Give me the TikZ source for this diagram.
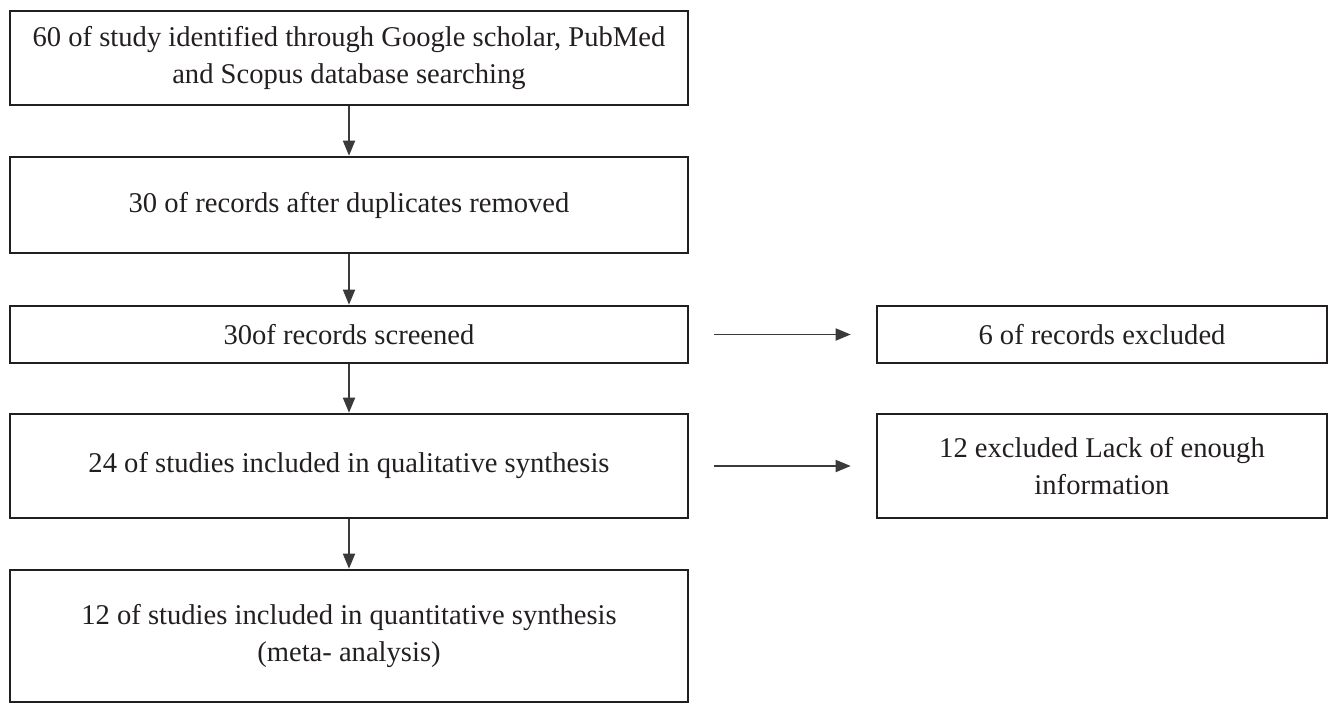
\documentclass[tikz,border=0pt]{standalone}
\usepackage{fontspec}
\setmainfont{Liberation Serif}
\usetikzlibrary{arrows.meta}
\definecolor{ink}{HTML}{231F20}
\definecolor{arrowgray}{HTML}{3A3A3A}
\tikzset{
  box/.style={draw=ink, line width=2.6pt, text=ink, align=center, inner sep=0pt,
    font=\fontsize{28.6}{37}\selectfont},
  flow/.style={draw=arrowgray, line width=1.8pt,
    -{Triangle[length=15pt,width=12pt]}},
}
\begin{document}
\begin{tikzpicture}[x=1pt,y=-1pt]
\useasboundingbox (0,0) rectangle (1328,704);
\node[box, minimum width=678pt, minimum height=94pt] (b1) at (349,58)
  {60 of study identified through Google scholar, PubMed\\and Scopus database searching};
\node[box, minimum width=678pt, minimum height=96pt] (b2) at (349,205)
  {30 of records after duplicates removed};
\node[box, minimum width=678pt, minimum height=57pt] (b3) at (349,334.5)
  {30of records screened};
\node[box, minimum width=678pt, minimum height=104pt] (b4) at (349,466)
  {24 of studies included in qualitative synthesis};
\node[box, minimum width=678pt, minimum height=132pt] (b5) at (349,636)
  {12 of studies included in quantitative synthesis\\(meta- analysis)};
\node[box, minimum width=450pt, minimum height=57pt] (r1) at (1102,334.5)
  {6 of records excluded};
\node[box, minimum width=450pt, minimum height=104pt] (r2) at (1102,466)
  {12 excluded Lack of enough\\information};
\draw[flow] (b1) -- (b2);
\draw[flow] (b2) -- (b3);
\draw[flow] (b3) -- (b4);
\draw[flow] (b4) -- (b5);
\draw[flow, shorten <=25pt, shorten >=25pt] (b3) -- (r1);
\draw[flow, shorten <=25pt, shorten >=25pt] (b4) -- (r2);
\end{tikzpicture}
\end{document}
